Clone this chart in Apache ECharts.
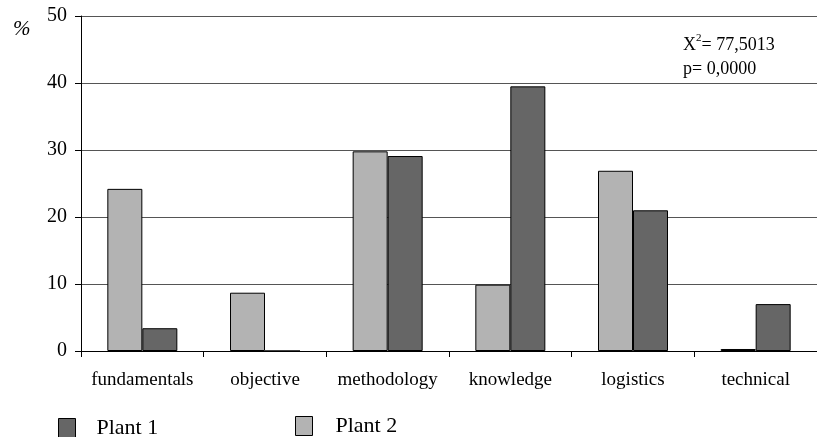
<!DOCTYPE html>
<html>
<head>
<meta charset="utf-8">
<script src="https://cdn.jsdelivr.net/npm/echarts@6/dist/echarts.min.js"></script>
<style>html,body{margin:0;padding:0;background:#fff}#c{width:817px;height:437px}</style>
</head>
<body>
<div id="c"></div>
<script>
var categories = ['fundamentals', 'objective', 'methodology', 'knowledge', 'logistics', 'technical'];
var plant2 = [24.2, 8.7, 29.8, 9.9, 26.9, 0.3];
var plant1 = [3.4, 0, 29.1, 39.5, 21.0, 7.0];
var yTicks = [0, 10, 20, 30, 40, 50];

var font = '"Liberation Serif", "Times New Roman", serif';
var chart = echarts.init(document.getElementById('c'));
chart.setOption({
  animation: false,
  backgroundColor: '#fff',
  textStyle: { fontFamily: font },
  grid: { left: 81, right: 0, top: 16, bottom: 86, containLabel: false },
  title: [{
    text: '%', left: 8, top: 14,
    textStyle: { fontFamily: font, fontStyle: 'italic', fontWeight: 'normal', fontSize: 21, color: '#000' }
  }, {
    text: '{a|X}{s|2}{a|= 77,5013}\n{a|p= 0,0000}', left: 678, top: 28,
    textStyle: {
      fontFamily: font, fontWeight: 'normal', fontSize: 18, color: '#000',
      rich: {
        a: { fontFamily: font, fontSize: 18, lineHeight: 24, color: '#000' },
        s: { fontFamily: font, fontSize: 11, lineHeight: 24, color: '#000', verticalAlign: 'top', padding: [0, 0, 8, 0] }
      }
    }
  }],
  legend: [{
    data: ['Plant 1'], left: 53, top: 412, itemWidth: 17, itemHeight: 19,
    icon: 'rect', selectedMode: false,
    itemStyle: { borderWidth: 1, borderColor: '#000' },
    textStyle: { fontFamily: font, fontSize: 22, color: '#000', padding: [2, 0, 0, 16] }
  }, {
    data: ['Plant 2'], left: 290, top: 410, itemWidth: 17, itemHeight: 19,
    icon: 'rect', selectedMode: false,
    itemStyle: { borderWidth: 1, borderColor: '#000' },
    textStyle: { fontFamily: font, fontSize: 22, color: '#000', padding: [4, 0, 0, 18] }
  }],
  xAxis: {
    type: 'category', data: categories,
    axisLine: { lineStyle: { color: '#000', width: 1 } },
    axisTick: { show: true, length: 6, interval: 0, lineStyle: { color: '#000' } },
    axisLabel: { fontFamily: font, fontSize: 19, color: '#000', margin: 20, interval: 0 }
  },
  yAxis: {
    type: 'value', min: yTicks[0], max: yTicks[yTicks.length - 1], interval: 10,
    axisLine: { show: true, lineStyle: { color: '#000', width: 1 } },
    axisTick: { show: true, length: 6, lineStyle: { color: '#000' } },
    axisLabel: { fontFamily: font, fontSize: 20, color: '#000', margin: 14 },
    splitLine: { show: true, lineStyle: { color: '#555', width: 1 } }
  },
  series: [{
    name: 'Plant 2', type: 'bar', data: plant2, barWidth: 35, barGap: '0%',
    itemStyle: { color: '#b3b3b3', borderColor: '#000', borderWidth: 1 }
  }, {
    name: 'Plant 1', type: 'bar', data: plant1, barWidth: 35, barGap: '0%',
    itemStyle: { color: '#666666', borderColor: '#000', borderWidth: 1 }
  }]
});
</script>
</body>
</html>
